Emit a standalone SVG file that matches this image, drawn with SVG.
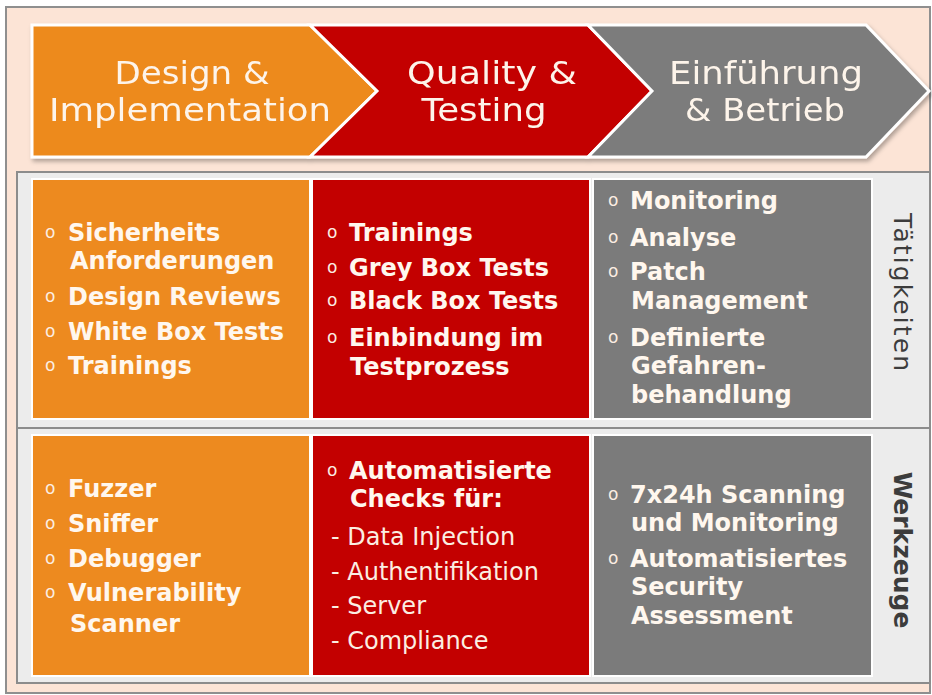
<svg xmlns="http://www.w3.org/2000/svg" width="932" height="695" viewBox="0 0 932 695">
  <defs>
    <filter id="soft-shadow" x="-5%" y="-10%" width="110%" height="130%">
      <feDropShadow dx="2" dy="3" stdDeviation="2" flood-color="#000" flood-opacity="0.3"/>
    </filter>
    <style>
      .orange { fill: #ed8a1f; }
      .red { fill: #c30000; }
      .grey { fill: #7b7b7b; }
      .chevron { stroke: #ffffff; stroke-width: 3; stroke-linejoin: miter; }
      .cell { stroke: #ffffff; stroke-width: 2; }
      .head { font-family: "DejaVu Sans", Verdana, sans-serif; font-size: 31.5px; fill: #fdf4ea; text-anchor: middle; }
      .item { font-family: "DejaVu Sans", Verdana, sans-serif; font-size: 24px; font-weight: bold; fill: #fff7ee; }
      .sub { font-family: "DejaVu Sans", Verdana, sans-serif; font-size: 24px; fill: #fbeee2; }
      .bul { font-family: "DejaVu Sans", Verdana, sans-serif; font-size: 17px; fill: #fbeee2; }
      .side { font-family: "DejaVu Sans", Verdana, sans-serif; font-size: 25px; fill: #3c3c3c; text-anchor: middle; }
    </style>
  </defs>

  <!-- page background and frame -->
  <rect x="6" y="7" width="924" height="686" fill="#fce4d6" stroke="#8f8f8f" stroke-width="2"/>

  <!-- phase chevrons -->
  <g id="phases" filter="url(#soft-shadow)">
    <g id="phase-design">
      <polygon class="chevron orange" points="32,25 310,25 377,91 310,157 32,157"/>
      <text class="head" x="192" y="84" textLength="155" lengthAdjust="spacingAndGlyphs">Design &amp;</text>
      <text class="head" x="190" y="121" textLength="282" lengthAdjust="spacingAndGlyphs">Implementation</text>
    </g>
    <g id="phase-quality">
      <polygon class="chevron red" points="310,25 588,25 652,91 588,157 310,157 377,91"/>
      <text class="head" x="492" y="84" textLength="170" lengthAdjust="spacingAndGlyphs">Quality &amp;</text>
      <text class="head" x="484" y="121" textLength="125" lengthAdjust="spacingAndGlyphs">Testing</text>
    </g>
    <g id="phase-betrieb">
      <polygon class="chevron grey" points="588,25 866,25 929,91 866,157 588,157 652,91"/>
      <text class="head" x="766" y="84" textLength="194" lengthAdjust="spacingAndGlyphs">Einführung</text>
      <text class="head" x="765" y="121" textLength="160" lengthAdjust="spacingAndGlyphs">&amp; Betrieb</text>
    </g>
  </g>

  <!-- matrix frame -->
  <rect x="17" y="172" width="913" height="511" fill="#ececec" stroke="#8c8c8c" stroke-width="2"/>
  <line x1="17" y1="428" x2="930" y2="428" stroke="#8c8c8c" stroke-width="2"/>

  <!-- row 1: activities -->
  <g id="cell-design-activities">
    <rect class="cell orange" x="32" y="179" width="278" height="240"/>
    <text class="bul" x="45" y="238">o</text><text class="item" x="68" y="241">Sicherheits</text>
    <text class="item" x="70" y="269">Anforderungen</text>
    <text class="bul" x="45" y="302">o</text><text class="item" x="68" y="305">Design Reviews</text>
    <text class="bul" x="45" y="337">o</text><text class="item" x="68" y="340">White Box Tests</text>
    <text class="bul" x="45" y="371">o</text><text class="item" x="68" y="374">Trainings</text>
  </g>
  <g id="cell-quality-activities">
    <rect class="cell red" x="312" y="179" width="278" height="240"/>
    <text class="bul" x="327" y="238">o</text><text class="item" x="349" y="241">Trainings</text>
    <text class="bul" x="327" y="273">o</text><text class="item" x="349" y="276">Grey Box Tests</text>
    <text class="bul" x="327" y="306">o</text><text class="item" x="349" y="309">Black Box Tests</text>
    <text class="bul" x="327" y="343">o</text><text class="item" x="349" y="346">Einbindung im</text>
    <text class="item" x="350" y="375">Testprozess</text>
  </g>
  <g id="cell-betrieb-activities">
    <rect class="cell grey" x="593" y="179" width="279" height="240"/>
    <text class="bul" x="608" y="206">o</text><text class="item" x="630" y="209">Monitoring</text>
    <text class="bul" x="608" y="243">o</text><text class="item" x="630" y="246">Analyse</text>
    <text class="bul" x="608" y="277">o</text><text class="item" x="630" y="280">Patch</text>
    <text class="item" x="631" y="309">Management</text>
    <text class="bul" x="608" y="343">o</text><text class="item" x="630" y="346">Definierte</text>
    <text class="item" x="631" y="374">Gefahren-</text>
    <text class="item" x="631" y="403">behandlung</text>
  </g>

  <!-- row 2: tools -->
  <g id="cell-design-tools">
    <rect class="cell orange" x="32" y="435" width="278" height="241"/>
    <text class="bul" x="45" y="494">o</text><text class="item" x="68" y="497">Fuzzer</text>
    <text class="bul" x="45" y="529">o</text><text class="item" x="68" y="532">Sniffer</text>
    <text class="bul" x="45" y="564">o</text><text class="item" x="68" y="567">Debugger</text>
    <text class="bul" x="45" y="598">o</text><text class="item" x="68" y="601">Vulnerability</text>
    <text class="item" x="70" y="632">Scanner</text>
  </g>
  <g id="cell-quality-tools">
    <rect class="cell red" x="312" y="435" width="278" height="241"/>
    <text class="bul" x="327" y="476">o</text><text class="item" x="349" y="479">Automatisierte</text>
    <text class="item" x="350" y="507">Checks für:</text>
    <text class="sub" x="331" y="545">- Data Injection</text>
    <text class="sub" x="331" y="580">- Authentifikation</text>
    <text class="sub" x="331" y="614">- Server</text>
    <text class="sub" x="331" y="649">- Compliance</text>
  </g>
  <g id="cell-betrieb-tools">
    <rect class="cell grey" x="593" y="435" width="279" height="241"/>
    <text class="bul" x="608" y="500">o</text><text class="item" x="630" y="503">7x24h Scanning</text>
    <text class="item" x="631" y="531">und Monitoring</text>
    <text class="bul" x="608" y="564">o</text><text class="item" x="630" y="567">Automatisiertes</text>
    <text class="item" x="631" y="595">Security</text>
    <text class="item" x="631" y="624">Assessment</text>
  </g>

  <!-- row headings, written top to bottom -->
  <g id="label-taetigkeiten">
    <text class="side" transform="translate(894,292) rotate(90)" textLength="158" lengthAdjust="spacing">Tätigkeiten</text>
  </g>
  <g id="label-werkzeuge">
    <text class="side" font-weight="bold" transform="translate(894,550) rotate(90)">Werkzeuge</text>
  </g>
</svg>
